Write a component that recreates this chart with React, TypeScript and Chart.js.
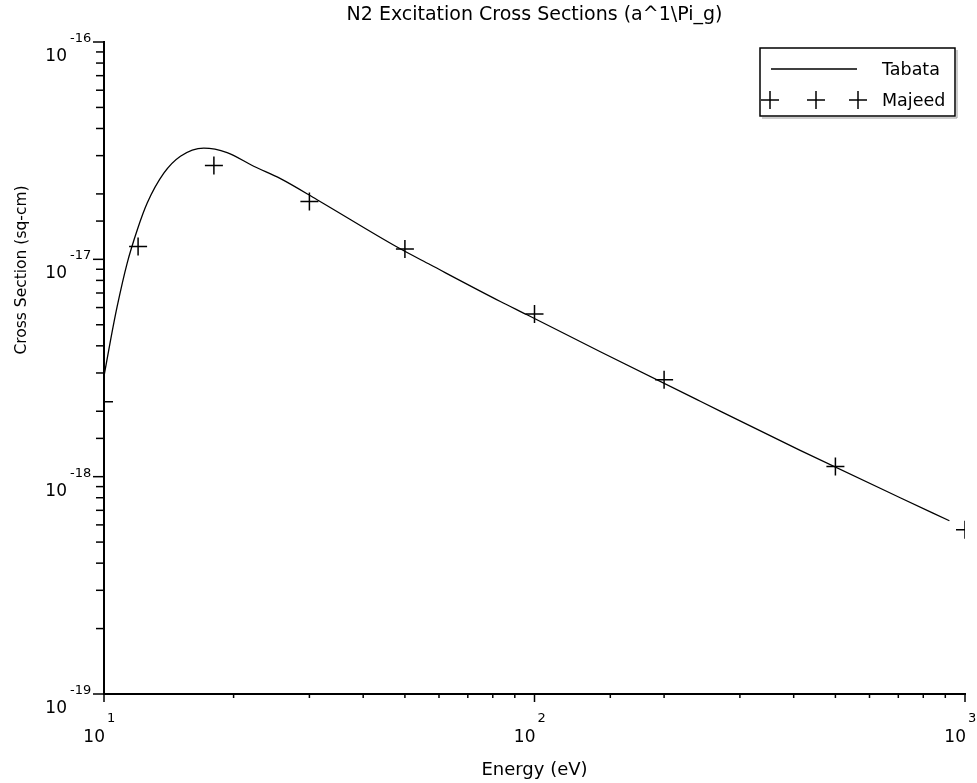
import React, { useEffect, useRef } from "react";
import { Chart, registerables } from "chart.js";

Chart.register(...registerables);

const chartTitle = "N2 Excitation Cross Sections (a^1\\Pi_g)";
const xAxisTitle = "Energy (eV)";
const yAxisTitle = "Cross Section (sq-cm)";
const seriesNames = ["Tabata", "Majeed"];

const tabataEnergy = [10.0, 10.35, 10.73, 11.32, 11.95, 12.6, 13.77, 15.05, 17.05, 19.32, 22.27, 25.7, 31.26, 47.94, 57.3, 83.3, 96.1, 142.2, 242.7, 414.1, 707, 920];
const tabataSigma = [2.9e-18, 4.22e-18, 6.07e-18, 9.61e-18, 1.368e-17, 1.815e-17, 2.49e-17, 2.98e-17, 3.25e-17, 3.1e-17, 2.68e-17, 2.35e-17, 1.88e-17, 1.139e-17, 9.44e-18, 6.4e-18, 5.56e-18, 3.757e-18, 2.223e-18, 1.322e-18, 8.0e-19, 6.27e-19];

const majeedEnergy = [10, 12, 18, 30, 50, 100, 200, 500, 1000];
const majeedSigma = [2.21e-18, 1.147e-17, 2.7e-17, 1.847e-17, 1.116e-17, 5.6e-18, 2.79e-18, 1.114e-18, 5.7e-19];

const xDecades = [1, 2, 3];
const yDecades = [-16, -17, -18, -19];

const FONT = "'DejaVu Sans', sans-serif";

const isMajor = (v: number) => Math.abs(Math.log10(v) - Math.round(Math.log10(v))) < 1e-6;

const drawPlus = (ctx: CanvasRenderingContext2D, x: number, y: number, r: number) => {
  ctx.beginPath();
  ctx.moveTo(x - r, y);
  ctx.lineTo(x + r, y);
  ctx.moveTo(x, y - r);
  ctx.lineTo(x, y + r);
  ctx.stroke();
};

const decorPlugin = {
  id: "decor",
  afterDraw(chart: any) {
    const ctx: CanvasRenderingContext2D = chart.ctx;
    const a = chart.chartArea;
    const xs = chart.scales.x;
    const ys = chart.scales.y;
    ctx.save();
    ctx.strokeStyle = "#000";
    ctx.fillStyle = "#000";
    ctx.lineWidth = 1.5;

    ys.ticks.forEach((t: any) => {
      const y = ys.getPixelForValue(t.value);
      const len = isMajor(t.value) ? 11 : 8;
      ctx.beginPath();
      ctx.moveTo(a.left, y);
      ctx.lineTo(a.left - len, y);
      ctx.stroke();
    });
    xs.ticks.forEach((t: any) => {
      const x = xs.getPixelForValue(t.value);
      const len = isMajor(t.value) ? 8 : 4;
      ctx.beginPath();
      ctx.moveTo(x, a.bottom);
      ctx.lineTo(x, a.bottom + len);
      ctx.stroke();
    });

    ctx.textBaseline = "alphabetic";
    yDecades.forEach((p) => {
      const y = ys.getPixelForValue(Math.pow(10, p));
      ctx.font = `17px ${FONT}`;
      ctx.textAlign = "right";
      ctx.fillText("10", a.left - 37, y + 19);
      ctx.font = `13px ${FONT}`;
      ctx.textAlign = "left";
      ctx.fillText(String(p), a.left - 34, y + 0);
    });
    xDecades.forEach((p) => {
      const x = xs.getPixelForValue(Math.pow(10, p));
      ctx.font = `17px ${FONT}`;
      ctx.textAlign = "right";
      ctx.fillText("10", x + 1, a.bottom + 48);
      ctx.font = `13px ${FONT}`;
      ctx.textAlign = "left";
      ctx.fillText(String(p), x + 3, a.bottom + 27.5);
    });

    ctx.textAlign = "center";
    const cx = (a.left + a.right) / 2;
    ctx.font = `19px ${FONT}`;
    ctx.fillText(chartTitle, cx, 20);
    ctx.font = `18px ${FONT}`;
    ctx.fillText(xAxisTitle, cx, 775);
    ctx.save();
    ctx.font = `15.5px ${FONT}`;
    ctx.translate(26, 270);
    ctx.rotate(-Math.PI / 2);
    ctx.fillText(yAxisTitle, 0, 0);
    ctx.restore();

    // legend
    const lx = 760, ly = 48, lw = 195, lh = 68;
    ctx.strokeStyle = "#999";
    ctx.lineWidth = 1;
    ctx.beginPath();
    ctx.moveTo(lx + 2, ly + lh + 2);
    ctx.lineTo(lx + lw + 2, ly + lh + 2);
    ctx.lineTo(lx + lw + 2, ly + 2);
    ctx.stroke();
    ctx.strokeStyle = "#000";
    ctx.lineWidth = 1.5;
    ctx.strokeRect(lx, ly, lw, lh);
    const ds = chart.data.datasets;
    ctx.beginPath();
    ctx.moveTo(771, 69);
    ctx.lineTo(857, 69);
    ctx.stroke();
    [770, 816, 858].forEach((px) => drawPlus(ctx, px, 100, 9));
    ctx.font = `17.5px ${FONT}`;
    ctx.textAlign = "left";
    ctx.fillText(ds[0].label, 882, 75);
    ctx.fillText(ds[1].label, 882, 106);
    ctx.restore();
  },
};

export default function App() {
  const ref = useRef<HTMLCanvasElement | null>(null);
  useEffect(() => {
    document.body.style.margin = "0";
    const canvas = ref.current;
    if (!canvas) return;
    const chart = new Chart(canvas, {
      type: "scatter",
      data: {
        datasets: [
          {
            label: seriesNames[0],
            data: tabataEnergy.map((e, i) => ({ x: e, y: tabataSigma[i] })),
            showLine: true,
            borderColor: "#000",
            borderWidth: 1.3,
            pointRadius: 0,
            cubicInterpolationMode: "monotone",
          },
          {
            label: seriesNames[1],
            data: majeedEnergy.map((e, i) => ({ x: e, y: majeedSigma[i] })),
            showLine: false,
            pointStyle: "cross",
            pointRadius: 9,
            pointBorderWidth: 1.5,
            borderColor: "#000",
            backgroundColor: "#000",
            clip: 0,
          },
        ],
      },
      options: {
        responsive: false,
        animation: false,
        devicePixelRatio: 1,
        layout: { padding: { left: 0, right: 12, top: 42, bottom: 0 } },
        plugins: { legend: { display: false }, title: { display: false }, tooltip: { enabled: false } },
        scales: {
          x: {
            type: "logarithmic",
            min: 10,
            max: 1000,
            grid: { display: false },
            border: { display: true, color: "#000", width: 2 },
            ticks: { display: false },
            afterFit: (s: any) => {
              s.height = 89;
            },
          },
          y: {
            type: "logarithmic",
            min: 1e-19,
            max: 1e-16,
            grid: { display: false },
            border: { display: true, color: "#000", width: 2 },
            ticks: { display: false },
            afterFit: (s: any) => {
              s.width = 104;
            },
          },
        },
      },
      plugins: [decorPlugin],
    });
    return () => chart.destroy();
  }, []);
  return (
    <div style={{ position: "absolute", left: 0, top: 0, width: 977, height: 783 }}>
      <canvas ref={ref} width={977} height={783} />
    </div>
  );
}
